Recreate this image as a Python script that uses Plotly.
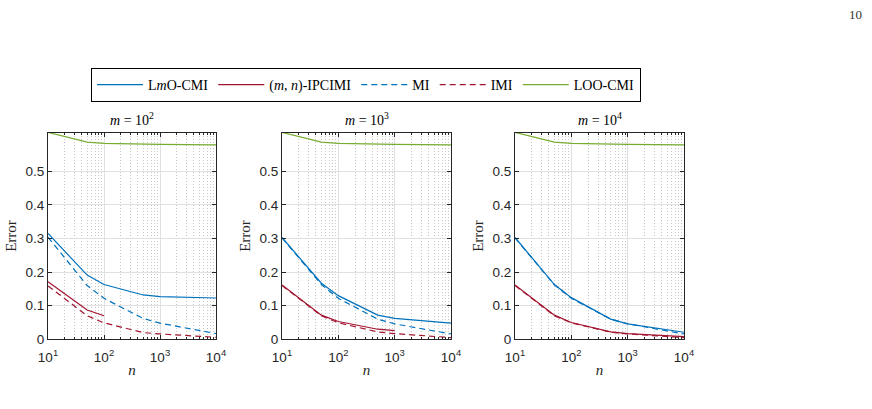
import plotly.graph_objects as go

n_vals = [10, 50, 100, 500, 1000, 10000]
m_labels = ["10<sup>2</sup>", "10<sup>3</sup>", "10<sup>4</sup>"]

# m = 10^2
lmo_m2 = [0.315, 0.191, 0.163, 0.132, 0.127, 0.123]
ipc_m2 = [0.171, 0.087, 0.070]
mi_m2 = [0.304, 0.160, 0.122, 0.062, 0.048, 0.017]
imi_m2 = [0.159, 0.070, 0.049, 0.020, 0.016, 0.006]
loo_m2 = [0.616, 0.587, 0.583, 0.580, 0.580, 0.579]

# m = 10^3
lmo_m3 = [0.303, 0.167, 0.130, 0.072, 0.0625, 0.048]
ipc_m3 = [0.162, 0.072, 0.053, 0.030, 0.026]
mi_m3 = [0.302, 0.163, 0.122, 0.060, 0.046, 0.016]
imi_m3 = [0.160, 0.070, 0.049, 0.022, 0.017, 0.005]
loo_m3 = [0.616, 0.587, 0.583, 0.580, 0.580, 0.579]

# m = 10^4
lmo_m4 = [0.303, 0.163, 0.124, 0.060, 0.046, 0.021]
ipc_m4 = [0.162, 0.072, 0.050, 0.022, 0.017, 0.008]
mi_m4 = [0.302, 0.162, 0.122, 0.060, 0.046, 0.016]
imi_m4 = [0.160, 0.070, 0.049, 0.021, 0.016, 0.005]
loo_m4 = [0.616, 0.587, 0.583, 0.580, 0.580, 0.579]

panels = [
    (lmo_m2, ipc_m2, mi_m2, imi_m2, loo_m2),
    (lmo_m3, ipc_m3, mi_m3, imi_m3, loo_m3),
    (lmo_m4, ipc_m4, mi_m4, imi_m4, loo_m4),
]

names = ["L<i>m</i>O-CMI", "(<i>m</i>, <i>n</i>)-IPCIMI", "MI", "IMI", "LOO-CMI"]
colors = ["#0072BD", "#A2142F", "#0072BD", "#A2142F", "#77AC30"]
dashes = ["solid", "solid", "6px,4px", "6px,4px", "solid"]

W, H = 872, 409
x_px = [(48, 216), (282, 451), (515, 684)]
y_top, y_bot = 132.7, 339.3
ydom = [(H - y_bot) / H, (H - y_top) / H]

fig = go.Figure()
minor_vals = [k * 10 ** e for e in (1, 2, 3) for k in range(2, 10)]

serif = "Liberation Serif"
sans = "Liberation Sans"
frame = "#262626"

for i, series in enumerate(panels):
    ax = "" if i == 0 else str(i + 1)
    for j, ys in enumerate(series):
        fig.add_trace(go.Scatter(
            x=n_vals[:len(ys)], y=ys, mode="lines", name=names[j],
            line=dict(color=colors[j], width=1.2, dash=dashes[j]),
            showlegend=(i == 0), legendrank=j,
            xaxis="x" + ax, yaxis="y" + ax,
        ))
    x0, x1 = x_px[i]
    fig.layout["xaxis" + ax] = dict(
        type="log", domain=[x0 / W, x1 / W], range=[1, 4], anchor="y" + ax,
        automargin=False,
        tickvals=[10, 100, 1000, 10000],
        ticktext=["10<sup>1</sup>", "10<sup>2</sup>", "10<sup>3</sup>", "10<sup>4</sup>"],
        ticks="inside", ticklen=4, tickcolor=frame, ticklabelstandoff=5,
        showline=True, linecolor=frame, linewidth=1, mirror="ticks",
        showgrid=True, gridcolor="#e0e0e0", gridwidth=1,
        minor=dict(tickvals=minor_vals, showgrid=True, gridcolor="#c8c8c8",
                   griddash="1px,2px", gridwidth=1, ticks="inside", ticklen=2,
                   tickcolor=frame),
        tickfont=dict(family=sans, size=13.5, color=frame),
        title=dict(text="<i>n</i>", font=dict(family=serif, size=15, color=frame),
                   standoff=0),
        zeroline=False,
    )
    fig.layout["yaxis" + ax] = dict(
        domain=ydom, range=[0, 0.615], anchor="x" + ax,
        automargin=False,
        tickvals=[0, 0.1, 0.2, 0.3, 0.4, 0.5],
        ticktext=["0", "0.1", "0.2", "0.3", "0.4", "0.5"],
        ticks="inside", ticklen=4, tickcolor=frame,
        showline=True, linecolor=frame, linewidth=1, mirror="ticks",
        showgrid=True, gridcolor="#e0e0e0", gridwidth=1,
        tickfont=dict(family=sans, size=13.5, color=frame),
        title=dict(text="Error", font=dict(family=serif, size=15, color=frame),
                   standoff=5),
        zeroline=False,
    )
    fig.add_annotation(
        text="<i>m</i> = " + m_labels[i], xref="paper", yref="paper",
        x=(x0 + x1) / 2 / W, y=(H - y_top + 3) / H, xanchor="center", yanchor="bottom",
        showarrow=False, font=dict(family=serif, size=14, color="black"),
    )

fig.add_annotation(
    text="10", xref="paper", yref="paper", x=864 / W, y=(H - 5) / H,
    xanchor="right", yanchor="top", showarrow=False,
    font=dict(family=serif, size=13, color="#333333"),
)

fig.update_layout(
    width=W, height=H, margin=dict(l=0, r=0, t=0, b=0, autoexpand=False),
    autosize=False,
    paper_bgcolor="white", plot_bgcolor="white",
    legend=dict(
        orientation="h", x=91 / W, y=(H - 102) / H, xanchor="left", yanchor="bottom",
        bordercolor="black", borderwidth=1, bgcolor="white",
        font=dict(family=serif, size=14, color="black"),
        itemwidth=46, tracegroupgap=0,
    ),
    showlegend=True,
)

fig.write_html("out.html")
